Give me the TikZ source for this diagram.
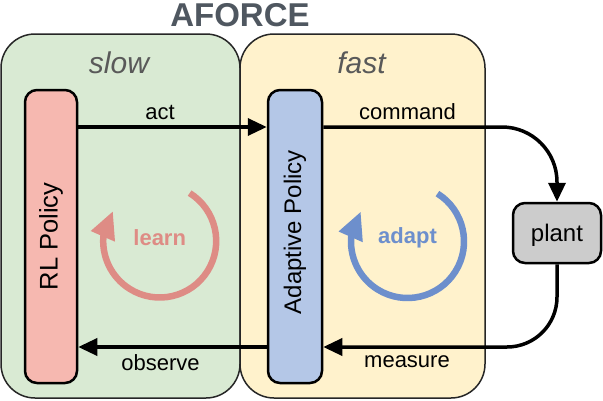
\documentclass[tikz,border=0pt]{standalone}
\usepackage{fontspec}
\setmainfont{Liberation Sans}
\usetikzlibrary{arrows.meta}
\definecolor{gfill}{HTML}{D9EAD3}
\definecolor{yfill}{HTML}{FFF2CC}
\definecolor{rlfill}{HTML}{F6B8B0}
\definecolor{adfill}{HTML}{B4C7E7}
\definecolor{plantfill}{HTML}{CCCCCC}
\definecolor{zonetext}{HTML}{595959}
\definecolor{titlec}{HTML}{4F5760}
\definecolor{learnc}{HTML}{DE8C85}
\definecolor{adaptc}{HTML}{6D8FCC}
\begin{document}
\begin{tikzpicture}[x=1pt,y=-1pt,
  zone/.style={draw=black!85, line width=1.5pt, rounded corners=34pt, inner sep=0pt},
  policy/.style={draw=black, line width=2.5pt, rounded corners=12pt, inner sep=0pt},
  conn/.style={line width=3.5pt, -{Triangle[length=19pt,width=17pt]}},
  lbl/.style={font=\fontsize{22}{26}\selectfont, anchor=base, inner sep=0pt},
  cyc/.style={font=\bfseries\fontsize{22}{26}\selectfont, anchor=base, inner sep=0pt},
  zonelbl/.style={font=\itshape\fontsize{30}{34}\selectfont, text=zonetext, anchor=base, inner sep=0pt}]
\useasboundingbox (0,0) rectangle (603,400);
\fill[white] (0,0) rectangle (603,400);
% zones
\node[zone, fill=gfill, minimum width=239pt, minimum height=364pt] (slowzone) at (120.5,216) {};
\node[zone, fill=yfill, minimum width=245pt, minimum height=364pt] (fastzone) at (362.5,216) {};
\node[font=\bfseries\fontsize{33}{36}\selectfont, text=titlec, anchor=base, inner sep=0pt] (title) at (240,26) {AFORCE};
\node[zonelbl] (slow) at (119,73) {slow};
\node[zonelbl] (fast) at (361.5,73) {fast};
% cycles
\coordinate (c1) at (159.7,241);
\coordinate (c2) at (407.5,241.5);
\draw[learnc, line width=6.5pt, shift={(c1)}] (-58:56.5) arc[start angle=-58, end angle=187, radius=56.5];
\fill[learnc, shift={(c1)}] (-69,-10) -- (-47,-29.3) -- (-44.7,0.7) -- cycle;
\node[cyc, text=learnc] (learn) at (159.7,245) {learn};
\draw[adaptc, line width=6.5pt, shift={(c2)}] (-58:56.5) arc[start angle=-58, end angle=187, radius=56.5];
\fill[adaptc, shift={(c2)}] (-69,-10) -- (-47,-29.3) -- (-44.7,0.7) -- cycle;
\node[cyc, text=adaptc] (adapt) at (407.5,243) {adapt};
% boxes
\node[policy, fill=rlfill, minimum width=52pt, minimum height=293pt] (rl) at (51,236.5) {};
\node[font=\fontsize{25.5}{28}\selectfont, rotate=90, inner sep=0pt] (rltext) at (rl.center) {RL Policy};
\node[policy, fill=adfill, minimum width=54pt, minimum height=293pt] (ad) at (295,236.5) {};
\node[font=\fontsize{24}{28}\selectfont, rotate=90, inner sep=0pt] (adtext) at (295,232) {Adaptive Policy};
\node[policy, fill=plantfill, minimum width=88pt, minimum height=60pt, font=\fontsize{24}{28}\selectfont, text height=21pt, text depth=4pt] (plant) at (557,233) {plant};
% connectors
\coordinate (ytop) at (0,127);
\coordinate (ybot) at (0,347);
\draw[conn] (rl.east |- ytop) -- (ad.west |- ytop);
\draw[conn, rounded corners=55pt] (ad.east |- ytop) -| (plant.north);
\draw[conn, rounded corners=50pt] (plant.south) |- (ad.east |- ybot);
\draw[conn] (ad.west |- ybot) -- (rl.east |- ybot);
% labels
\node[lbl] (lact) at (160,119) {act};
\node[lbl] (lcmd) at (407.5,119) {command};
\node[lbl] (lobs) at (160.5,370) {observe};
\node[lbl] (lmeas) at (407,367.5) {measure};
\end{tikzpicture}
\end{document}
